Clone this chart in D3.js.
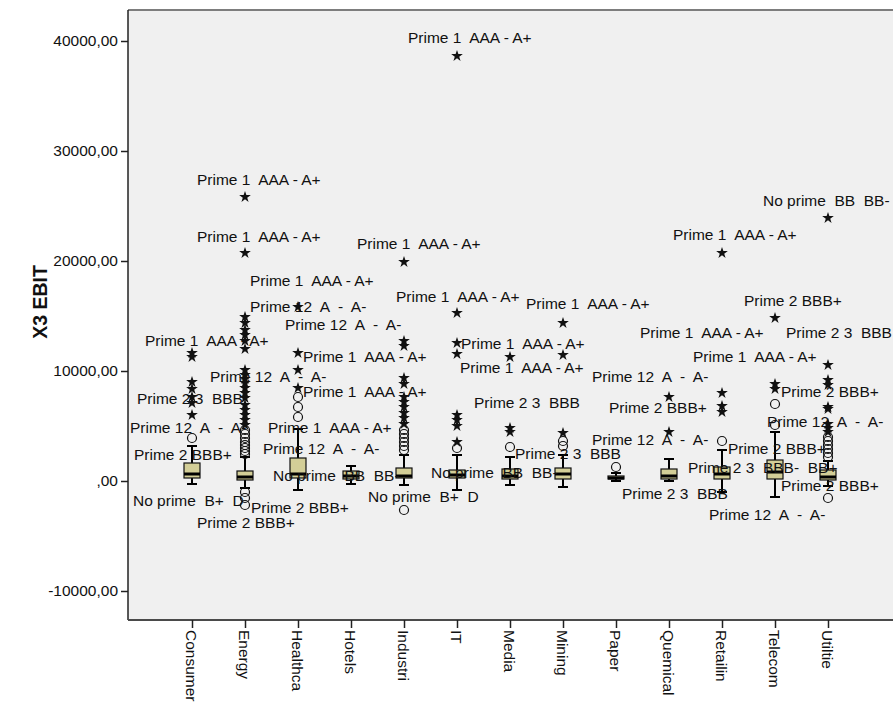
<!DOCTYPE html>
<html>
<head>
<meta charset="utf-8">
<script src="https://cdn.jsdelivr.net/npm/d3@7/dist/d3.min.js"></script>
<style>
  body { margin: 0; background: #fff; }
  svg text { font-family: "Liberation Sans", Arial, sans-serif; fill: #111; }
</style>
</head>
<body>
<svg id="chart" width="893" height="704"></svg>
<script>
// sectors on the x axis
const categories = ["Consumer", "Energy", "Healthca", "Hotels", "Industri", "IT", "Media",
  "Mining", "Paper", "Quemical", "Retailin", "Telecom", "Utiltie"];

// box statistics per sector (X3 EBIT)
const q1Values = [273, 91, 273, 182, 273, 273, 182, 182, 182, 182, 182, 182, 91];
const medianValues = [636, 364, 636, 455, 455, 545, 455, 636, 273, 455, 636, 818, 364];
const q3Values = [1636, 909, 2091, 909, 1182, 1000, 1091, 1182, 455, 1091, 1273, 1909, 1000];
const whiskerLow = [-273, -636, -818, -273, -364, -818, -364, -545, 0, 0, -1000, -1455, -455];
const whiskerHigh = [3182, 2182, 4727, 1364, 2364, 2364, 2182, 2364, 727, 2000, 2818, 4455, 1818];

// outliers (circles) and extremes (stars), one list per sector
const mildOutliers = [
  [3909],
  [4636, 4273, 3909, 3545, 3273, 3000, 2727, 2455, -1000, -1545, -2182],
  [7636, 6727, 5818],
  [],
  [4636, 4273, 3909, 3545, 3182, 2818, -2636],
  [3000],
  [3091],
  [3636, 3182],
  [1273],
  [],
  [3636],
  [7000, 5091],
  [4000, 3636, 3273, 2909, 2545, 2182, -1545]
];
const extremeOutliers = [
  [11636, 11273, 9000, 8364, 7636, 7091, 6000],
  [25818, 20727, 14909, 14364, 13727, 13273, 12727, 12000, 10091, 9636, 9273, 8909, 8455, 8000, 7545, 6909, 6455, 6000, 5545, 5091],
  [15818, 11636, 10091, 8455],
  [],
  [19909, 12727, 12273, 9364, 8818, 7636, 7182, 6727, 6182, 5727, 5182],
  [38636, 15273, 12545, 11545, 6000, 5545, 5000, 3545],
  [11273, 4818, 4455],
  [14364, 11455, 4364],
  [],
  [7636, 4455],
  [20727, 8000, 6818, 6273],
  [14818, 8818, 8364],
  [23909, 10545, 9182, 8727, 6727, 6545, 5182, 4818, 4455]
];

// case labels: sector, value, text, horizontal nudge
const caseLabels = [
  ["IT", 40273, "Prime 1  AAA - A+", -49],
  ["Energy", 27364, "Prime 1  AAA - A+", -48],
  ["Energy", 22182, "Prime 1  AAA - A+", -48],
  ["Industri", 21636, "Prime 1  AAA - A+", -47],
  ["Healthca", 18182, "Prime 1  AAA - A+", -48],
  ["Healthca", 15909, "Prime 12  A  -  A-", -48],
  ["Healthca", 14182, "Prime 12  A  -  A-", -13],
  ["IT", 16818, "Prime 1  AAA - A+", -61],
  ["Mining", 16091, "Prime 1  AAA - A+", -37],
  ["Consumer", 12818, "Prime 1  AAA - A+", -47],
  ["Healthca", 11273, "Prime 1  AAA - A+", 5],
  ["Media", 12455, "Prime 1  AAA - A+", -49],
  ["Media", 10273, "Prime 1  AAA - A+", -50],
  ["Energy", 9545, "Prime 12  A  -  A-", -35],
  ["Healthca", 8091, "Prime 1  AAA - A+", 5],
  ["Consumer", 7455, "Prime 2 3  BBB", -55],
  ["Consumer", 4909, "Prime 12  A  -  A-", -62],
  ["Healthca", 4909, "Prime 1  AAA - A+", -30],
  ["Consumer", 2364, "Prime 2 BBB+", -58],
  ["Healthca", 3000, "Prime 12  A  -  A-", -35],
  ["Healthca", 545, "No prime  BB  BB-", -25],
  ["Consumer", -1818, "No prime  B+  D", -59],
  ["Energy", -3818, "Prime 2 BBB+", -48],
  ["Healthca", -2364, "Prime 2 BBB+", -47],
  ["Industri", -1364, "No prime  B+  D", -36],
  ["IT", 818, "No prime  BB  BB-", -26],
  ["Media", 7091, "Prime 2 3  BBB", -36],
  ["Paper", 9455, "Prime 12  A  -  A-", -24],
  ["Paper", 6727, "Prime 2 BBB+", -7],
  ["Paper", 3818, "Prime 12  A  -  A-", -24],
  ["Mining", 2545, "Prime 2 3  BBB", -48],
  ["Quemical", -1091, "Prime 2 3  BBB", -47],
  ["Utiltie", 25545, "No prime  BB  BB-", -65],
  ["Retailin", 22364, "Prime 1  AAA - A+", -49],
  ["Telecom", 16364, "Prime 2 BBB+", -31],
  ["Retailin", 13545, "Prime 1  AAA - A+", -82],
  ["Utiltie", 13545, "Prime 2 3  BBB", -42],
  ["Retailin", 11273, "Prime 1  AAA - A+", -29],
  ["Utiltie", 8091, "Prime 2 BBB+", -47],
  ["Utiltie", 5364, "Prime 12  A  -  A-", -61],
  ["Telecom", 3000, "Prime 2 BBB+", -47],
  ["Retailin", 1182, "Prime 2 3  BBB-  BB+", -34],
  ["Utiltie", -364, "Prime 2 BBB+", -47],
  ["Retailin", -3000, "Prime 12  A  -  A-", -13]
];

const yTicks = [-10000, 0, 10000, 20000, 30000, 40000];
const yTickLabels = ["-10000,00", ",00", "10000,00", "20000,00", "30000,00", "40000,00"];
const yTitle = "X3 EBIT";

// layout
const plotLeft = 128, plotTop = 10, plotBottom = 620, plotRight = 900;
const svg = d3.select("#chart");

const y = d3.scaleLinear().domain([-10000, 40000]).range([591, 41]);
const x = d3.scalePoint().domain(categories).range([192, 828]);

// plot background
svg.append("rect")
  .attr("x", plotLeft).attr("y", plotTop)
  .attr("width", plotRight - plotLeft).attr("height", plotBottom - plotTop)
  .attr("fill", "#f0f0f0");

// top frame line
svg.append("line")
  .attr("x1", plotLeft).attr("x2", plotRight)
  .attr("y1", plotTop).attr("y2", plotTop)
  .attr("stroke", "#7d7d7d").attr("stroke-width", 2);

// y axis
const yAxis = svg.append("g")
  .attr("transform", "translate(" + plotLeft + ",0)")
  .call(d3.axisLeft(y).tickValues(yTicks)
    .tickFormat((d, i) => yTickLabels[i]).tickSize(7).tickPadding(3));
yAxis.select(".domain").attr("d", "M0," + plotTop + "V" + plotBottom)
  .attr("stroke", "#222").attr("stroke-width", 1.5);
yAxis.selectAll(".tick line").attr("stroke", "#222").attr("stroke-width", 1.5);
yAxis.selectAll(".tick text")
  .style("font-size", "15.5px").attr("fill", "#111");

// x axis
const xAxis = svg.append("g")
  .attr("transform", "translate(0," + plotBottom + ")")
  .call(d3.axisBottom(x).tickSize(8).tickPadding(0));
xAxis.select(".domain").attr("d", "M" + plotLeft + ",0H" + plotRight)
  .attr("stroke", "#4a4a4a").attr("stroke-width", 2);
xAxis.selectAll(".tick line").attr("stroke", "#222").attr("stroke-width", 1.5);
xAxis.selectAll(".tick text")
  .style("font-size", "15.5px")
  .attr("text-anchor", "start")
  .attr("dy", null).attr("y", null)
  .attr("dominant-baseline", "central")
  .attr("transform", "translate(-1,10) rotate(90)");

// y title
svg.append("text")
  .attr("transform", "translate(40,302) rotate(-90)")
  .attr("text-anchor", "middle")
  .attr("dominant-baseline", "central")
  .style("font-size", "19.5px").style("font-weight", "bold")
  .text(yTitle);

// boxes
const boxW = 16, capW = 10;
const boxes = svg.append("g");
categories.forEach((c, i) => {
  const cx = x(c);
  const g = boxes.append("g");
  g.append("line").attr("x1", cx).attr("x2", cx)
    .attr("y1", y(whiskerHigh[i])).attr("y2", y(whiskerLow[i]))
    .attr("stroke", "#000").attr("stroke-width", 2);
  [whiskerHigh[i], whiskerLow[i]].forEach(v => {
    g.append("line").attr("x1", cx - capW / 2).attr("x2", cx + capW / 2)
      .attr("y1", y(v)).attr("y2", y(v))
      .attr("stroke", "#000").attr("stroke-width", 2);
  });
  g.append("rect")
    .attr("x", cx - boxW / 2).attr("width", boxW)
    .attr("y", y(q3Values[i])).attr("height", y(q1Values[i]) - y(q3Values[i]))
    .attr("fill", "#d3ce97").attr("stroke", "#111").attr("stroke-width", 1.2);
  g.append("line").attr("x1", cx - boxW / 2).attr("x2", cx + boxW / 2)
    .attr("y1", y(medianValues[i])).attr("y2", y(medianValues[i]))
    .attr("stroke", "#000").attr("stroke-width", 3);
});

// case labels
svg.append("g").selectAll("text")
  .data(caseLabels)
  .join("text")
  .attr("x", d => x(d[0]) + d[3])
  .attr("y", d => y(d[1]))
  .attr("dominant-baseline", "central")
  .style("font-size", "15.5px")
  .style("white-space", "pre")
  .attr("xml:space", "preserve")
  .text(d => d[2]);

// outliers
const pts = svg.append("g");
categories.forEach((c, i) => {
  pts.selectAll(null).data(mildOutliers[i]).join("circle")
    .attr("cx", x(c)).attr("cy", d => y(d)).attr("r", 4.5)
    .attr("fill", "none").attr("stroke", "#111").attr("stroke-width", 1.2);
  pts.selectAll(null).data(extremeOutliers[i]).join("path")
    .attr("d", d3.symbol().type(d3.symbolStar).size(42))
    .attr("transform", d => "translate(" + x(c) + "," + y(d) + ")")
    .attr("fill", "#111");
});
</script>
</body>
</html>
